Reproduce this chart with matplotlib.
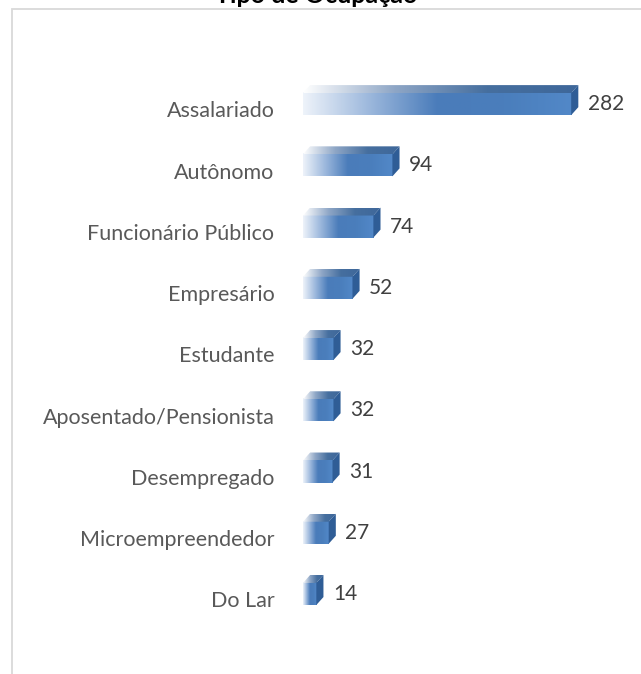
import matplotlib.pyplot as plt
import numpy as np
from matplotlib.colors import LinearSegmentedColormap
from matplotlib.patches import Polygon, Rectangle

categories = ["Assalariado", "Autônomo", "Funcionário Público", "Empresário", "Estudante",
              "Aposentado/Pensionista", "Desempregado", "Microempreendedor", "Do Lar"]
values = [282, 94, 74, 52, 32, 32, 31, 27, 14]
title = "Tipo de Ocupação"

plt.rcParams["font.family"] = ["Lato", "DejaVu Sans"]

fig = plt.figure(figsize=(6.41, 6.74), dpi=100)
fig.patch.set_facecolor("white")
# light frame of the chart area (cut at the top/left like the original)
fig.patches.append(Rectangle((12 / 641, -0.1), 1.2, 1.1 - 9 / 674, transform=fig.transFigure,
                             fill=False, edgecolor="#d9d9d9", linewidth=1.3))
fig.text(0.493, 1 - 3 / 674, title, ha="center", va="baseline", fontsize=18,
         fontweight="bold", color="black")

ax = fig.add_axes([303 / 641, 0.0733, 0.50, 0.891 - 0.0733])
ax.set_xlim(0, 337)
ax.set_ylim(len(categories) - 0.5, -0.5)
ax.axis("off")

front = LinearSegmentedColormap.from_list("front", ["#eef3fa", "#9bb7dc", "#4a7cba", "#4a7ebc", "#5288c8"])
top = LinearSegmentedColormap.from_list("top", ["#ffffff", "#8ea6c6", "#466f9f", "#3e679a"])
grad = np.linspace(0, 1, 256).reshape(1, -1)

h = 0.36      # front face height (category units)
dx = 7.5      # depth in x (data units)
dy = 0.13     # depth in y (category units)

for i, (cat, v) in enumerate(zip(categories, values)):
    y0, y1 = i - h / 2, i + h / 2
    # front face
    ax.imshow(grad, cmap=front, extent=(0, v, y1, y0), aspect="auto", zorder=2,
              interpolation="bilinear")
    # top face
    topface = Polygon([(0, y0), (v, y0), (v + dx, y0 - dy), (dx, y0 - dy)], closed=True,
                      facecolor="none", edgecolor="none")
    ax.add_patch(topface)
    im2 = ax.imshow(grad, cmap=top, extent=(0, v + dx, y0, y0 - dy), aspect="auto",
                    zorder=2, interpolation="bilinear")
    im2.set_clip_path(topface)
    # side face
    ax.add_patch(Polygon([(v, y0), (v + dx, y0 - dy), (v + dx, y1 - dy), (v, y1)],
                         closed=True, facecolor="#2f5d96", edgecolor="none", zorder=3))
    ax.text(v + dx + 10, i + 0.0, str(v), ha="left", va="center", fontsize=15, color="#404040")
    ax.text(-30, i + 0.12, cat, ha="right", va="center", fontsize=15.5, color="#595959",
            clip_on=False)

fig.savefig("out.png", dpi=100)
